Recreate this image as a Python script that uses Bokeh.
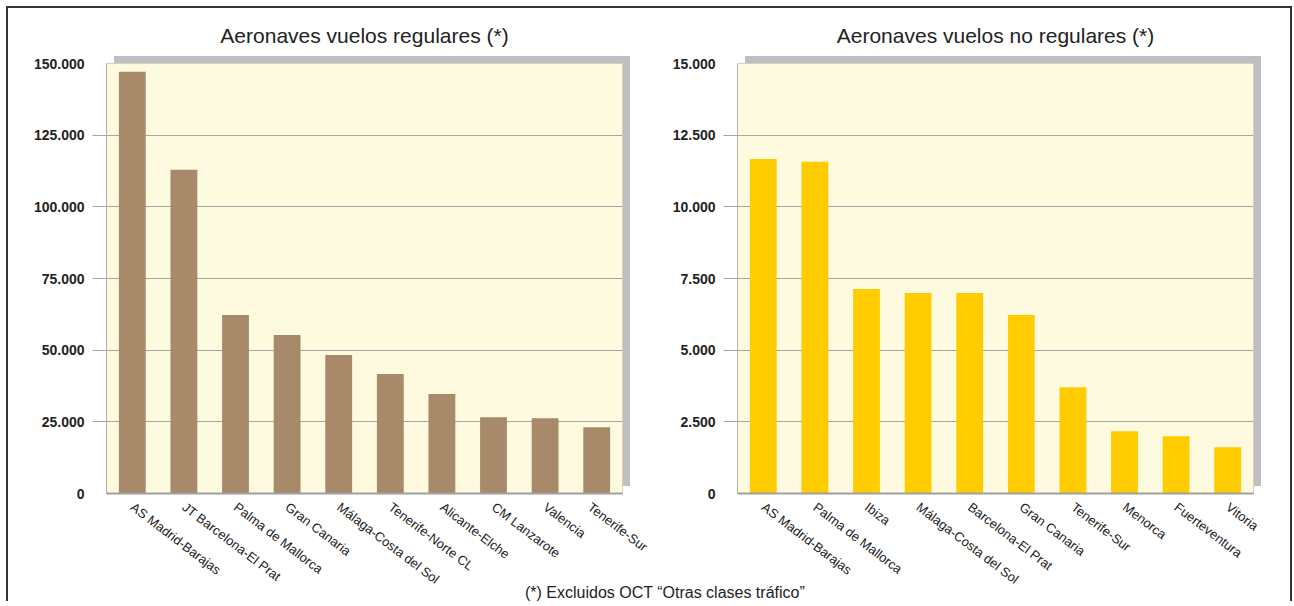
from bokeh.plotting import figure
from bokeh.models import (FactorRange, Range1d, FixedTicker, LinearAxis,
                          Div, ColumnDataSource, Grid, CustomJSTickFormatter)
from bokeh.layouts import row, column
from bokeh.embed import file_html
from bokeh.resources import INLINE

# ---------------- data ----------------
reg_title = "Aeronaves vuelos regulares (*)"
reg_airports = ["AS Madrid-Barajas", "JT Barcelona-El Prat", "Palma de Mallorca", "Gran Canaria",
                "Málaga-Costa del Sol", "Tenerife-Norte CL", "Alicante-Elche", "CM Lanzarote",
                "Valencia", "Tenerife-Sur"]
reg_values = [147100, 112900, 62250, 55270, 48290, 41650, 34670, 26640, 26290, 23150]
reg_ticks = [0, 25000, 50000, 75000, 100000, 125000, 150000]

noreg_title = "Aeronaves vuelos no regulares (*)"
noreg_airports = ["AS Madrid-Barajas", "Palma  de Mallorca", "Ibiza", "Málaga-Costa del Sol",
                  "Barcelona-El Prat", "Gran Canaria", "Tenerife-Sur", "Menorca",
                  "Fuerteventura", "Vitoria"]
noreg_values = [11670, 11570, 7130, 6990, 6990, 6225, 3710, 2175, 2000, 1615]
noreg_ticks = [0, 2500, 5000, 7500, 10000, 12500, 15000]

footnote = "(*) Excluidos OCT “Otras clases tráfico”"

FONT = "Liberation Sans"
CREAM = "#FEFADF"
SHADOW = "#BEBEC3"
GRID = "#A6A6A6"

H = 590
BT = 55
BB = 105


def make_chart(title, cats, vals, ticks, color, width, bl, br):
    fl, fr, ft, fb = bl, width - br, BT, H - BB
    shadow_css = (f"linear-gradient({SHADOW}, {SHADOW}) {fl + 8}px {ft - 7}px / "
                  f"{fr - fl}px {fb - ft}px no-repeat, #ffffff")
    p = figure(width=width, height=H,
               x_range=FactorRange(factors=cats, range_padding=0),
               y_range=Range1d(ticks[0], ticks[-1]),
               output_backend="svg", toolbar_location=None,
               min_border_left=bl, min_border_right=br,
               min_border_top=BT, min_border_bottom=BB,
               background_fill_color=CREAM, border_fill_color=None,
               outline_line_color="#D6D2B2", outline_line_width=1,
               y_axis_location=None,
               styles={"background": shadow_css})
    p.center = [r for r in p.center if not isinstance(r, Grid)]

    src = ColumnDataSource(dict(x=cats, top=vals))
    p.vbar(x="x", top="top", width=0.52, source=src, fill_color=color, line_color=None)

    inner = ticks[1:-1]
    p.add_layout(Grid(dimension=1, ticker=FixedTicker(ticks=inner),
                      grid_line_color=GRID, grid_line_width=1))

    tick_axis = LinearAxis(ticker=FixedTicker(ticks=inner),
                           formatter=CustomJSTickFormatter(code="return '';"),
                           major_tick_out=14, major_tick_in=0,
                           major_tick_line_color=GRID, minor_tick_line_color=None,
                           axis_line_color="#B4B2A6", major_label_standoff=0)
    p.add_layout(tick_axis, "left")

    label_axis = LinearAxis(ticker=FixedTicker(ticks=ticks),
                            formatter=CustomJSTickFormatter(
                                code="return Math.round(tick).toString().replace(/\\B(?=(\\d{3})+(?!\\d))/g, '.');"),
                            major_tick_out=0, major_tick_in=0,
                            major_tick_line_color=None, minor_tick_line_color=None,
                            axis_line_color=None, major_label_standoff=8,
                            major_label_text_font=FONT, major_label_text_font_style="bold",
                            major_label_text_font_size="14px", major_label_text_color="#222222")
    p.add_layout(label_axis, "left")

    xa = p.xaxis[0]
    xa.major_tick_line_color = None
    xa.minor_tick_line_color = None
    xa.axis_line_color = "#A0A0A0"
    xa.axis_line_width = 2
    xa.major_label_orientation = -0.65
    xa.major_label_standoff = 6
    xa.major_label_text_font = FONT
    xa.major_label_text_font_size = "13px"
    xa.major_label_text_color = "#222222"

    p.title.text = title
    p.title.align = "center"
    p.title.vertical_align = "top"
    p.title.text_font = FONT
    p.title.text_font_size = "21px"
    p.title.text_font_style = "normal"
    p.title.text_color = "#222222"
    p.title.standoff = 30
    return p


p1 = make_chart(reg_title, reg_airports, reg_values, reg_ticks, "#A88A6A", 642, 98, 28)
p2 = make_chart(noreg_title, noreg_airports, noreg_values, noreg_ticks, "#FFCC00", 640, 87, 37)

note = Div(text=('<div style="padding-left:517px;font-family:\'Liberation Sans\';font-size:16px;'
                 'line-height:16px;color:#222;white-space:nowrap">' + footnote + '</div>'),
           width=1282, height=16, margin=(-13, 0, 0, 0))

layout = column(row(p1, p2), note, margin=(6, 0, 0, 6),
                styles={"border-top": "2px solid #333333", "border-left": "2px solid #333333",
                        "border-right": "2px solid #333333"})

open("out.html", "w").write(file_html(layout, INLINE))
